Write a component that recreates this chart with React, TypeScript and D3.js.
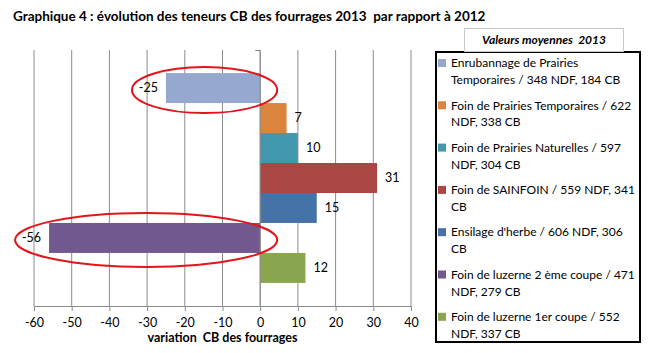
import React, { useEffect, useRef } from "react";
import * as d3 from "d3";

// one category, seven series (Excel clustered bar)
const seriesNames = [
  "Enrubannage de Prairies\nTemporaires / 348 NDF, 184 CB",
  "Foin de Prairies Temporaires / 622\nNDF, 338 CB",
  "Foin de Prairies Naturelles / 597\nNDF, 304 CB",
  "Foin de SAINFOIN  / 559 NDF, 341\nCB",
  "Ensilage d'herbe / 606 NDF, 306\nCB",
  "Foin de luzerne 2 ème coupe / 471\nNDF, 279 CB",
  "Foin de luzerne 1er coupe / 552\nNDF, 337 CB",
];
const variations = [-25, 7, 10, 31, 15, -56, 12];
const colors = ["#95a9d0", "#db843d", "#4198af", "#aa4643", "#4572a7", "#71588f", "#89a54e"];
const xTicks = [-60, -50, -40, -30, -20, -10, 0, 10, 20, 30, 40];
// bars circled in red on the original
const highlighted = [0, 5];

const W = 655;
const H = 353;
const FONT = "Lato, 'Open Sans', sans-serif";

const App = () => {
  const svgRef = useRef<SVGSVGElement>(null);

  useEffect(() => {
    document.body.style.margin = "0";
    const svg = d3.select(svgRef.current);
    svg.selectAll("*").remove();

    const plot = { left: 34, right: 411, top: 50, bottom: 306 };

    const x = d3.scaleLinear().domain([-60, 40]).range([plot.left, plot.right]);
    const y = d3
      .scaleBand<number>()
      .domain(d3.range(seriesNames.length))
      .range([plot.top, plot.bottom])
      .paddingInner(0)
      .paddingOuter(0.77);

    // title
    svg.append("text")
      .attr("x", 13)
      .attr("y", 21)
      .style("font-family", FONT)
      .style("font-size", "13.5px")
      .style("font-weight", "bold")
      .style("white-space", "pre")
      .attr("fill", "#000")
      .text("Graphique 4 : évolution des teneurs CB des fourrages 2013  par rapport à 2012");

    // gridlines
    svg.append("g")
      .selectAll("line")
      .data(xTicks)
      .join("line")
      .attr("x1", d => x(d))
      .attr("x2", d => x(d))
      .attr("y1", plot.top)
      .attr("y2", plot.bottom)
      .attr("stroke", "#8c8c8c")
      .attr("stroke-width", 1);

    // bars
    svg.append("g")
      .selectAll("rect")
      .data(variations)
      .join("rect")
      .attr("x", d => Math.min(x(0), x(d)))
      .attr("y", (d, i) => y(i)!)
      .attr("width", d => Math.abs(x(d) - x(0)))
      .attr("height", y.bandwidth())
      .attr("fill", (d, i) => colors[i]);

    // data labels
    svg.append("g")
      .selectAll("text")
      .data(variations)
      .join("text")
      .attr("x", d => (d < 0 ? x(d) - 8 : x(d) + 8))
      .attr("y", (d, i) => y(i)! + y.bandwidth() / 2)
      .attr("dy", "0.35em")
      .attr("text-anchor", d => (d < 0 ? "end" : "start"))
      .style("font-family", FONT)
      .style("font-size", "12.5px")
      .attr("fill", "#000")
      .text(d => String(d));

    // category axis at zero
    const axis = svg.append("g").attr("stroke", "#8c8c8c");
    axis.append("line")
      .attr("x1", x(0)).attr("x2", x(0))
      .attr("y1", plot.top).attr("y2", plot.bottom);
    axis.append("line")
      .attr("x1", x(0) - 5).attr("x2", x(0))
      .attr("y1", plot.top + 0.5).attr("y2", plot.top + 0.5);

    // value axis
    const xAxis = svg.append("g")
      .attr("transform", `translate(0,${plot.bottom})`)
      .call(
        d3.axisBottom(x)
          .tickValues(xTicks)
          .tickFormat(d => String(d))
          .tickSize(5)
          .tickSizeOuter(0)
      );
    xAxis.select(".domain").attr("stroke", "#8c8c8c");
    xAxis.selectAll(".tick line").attr("stroke", "#8c8c8c");
    xAxis.selectAll("text")
      .attr("y", 12)
      .style("font-family", FONT)
      .style("font-size", "12.5px")
      .attr("fill", "#000");

    svg.append("text")
      .attr("x", (plot.left + plot.right) / 2)
      .attr("y", 342)
      .attr("text-anchor", "middle")
      .style("font-family", FONT)
      .style("font-size", "12.5px")
      .style("font-weight", "bold")
      .style("white-space", "pre")
      .attr("fill", "#000")
      .text("variation  CB des fourrages");

    // red ellipses
    svg.append("g")
      .selectAll("ellipse")
      .data(highlighted)
      .join("ellipse")
      .attr("cx", i => (x(variations[i]) - 34 + x(0) + 17) / 2)
      .attr("cy", i => y(i)! + y.bandwidth() / 2 + 2)
      .attr("rx", i => (x(0) + 17 - x(variations[i]) + 34) / 2)
      .attr("ry", i => (i === 0 ? 23 : 27))
      .attr("fill", "none")
      .attr("stroke", "#e3141b")
      .attr("stroke-width", 2);

    // legend
    const legend = svg.append("g");
    legend.append("rect")
      .attr("x", 436).attr("y", 52)
      .attr("width", 204).attr("height", 290)
      .attr("fill", "#fff")
      .attr("stroke", "#000")
      .attr("stroke-width", 2);

    legend.append("rect")
      .attr("x", 464.5).attr("y", 28.5)
      .attr("width", 159).attr("height", 23)
      .attr("fill", "#fff")
      .attr("stroke", "#c8c8c8");
    legend.append("text")
      .attr("x", 544).attr("y", 44)
      .attr("text-anchor", "middle")
      .style("font-family", FONT)
      .style("font-size", "12px")
      .style("font-weight", "bold")
      .style("font-style", "italic")
      .style("white-space", "pre")
      .attr("fill", "#000")
      .text("Valeurs moyennes  2013");

    const item = legend.selectAll("g.item")
      .data(seriesNames)
      .join("g")
      .attr("class", "item")
      .attr("transform", (d, i) => `translate(438,${63 + i * 42.3})`);
    item.append("rect")
      .attr("x", 0).attr("y", -4)
      .attr("width", 8).attr("height", 8)
      .attr("fill", (d, i) => colors[i]);
    item.append("text")
      .style("font-family", FONT)
      .style("font-size", "12px")
      .attr("fill", "#000")
      .selectAll("tspan")
      .data(d => d.split("\n"))
      .join("tspan")
      .attr("x", 13)
      .attr("y", (d, j) => j * 17)
      .attr("dy", "0.35em")
      .text(d => d);
  }, []);

  return <svg ref={svgRef} width={W} height={H} style={{ display: "block", background: "#fff" }} />;
};

export default App;
